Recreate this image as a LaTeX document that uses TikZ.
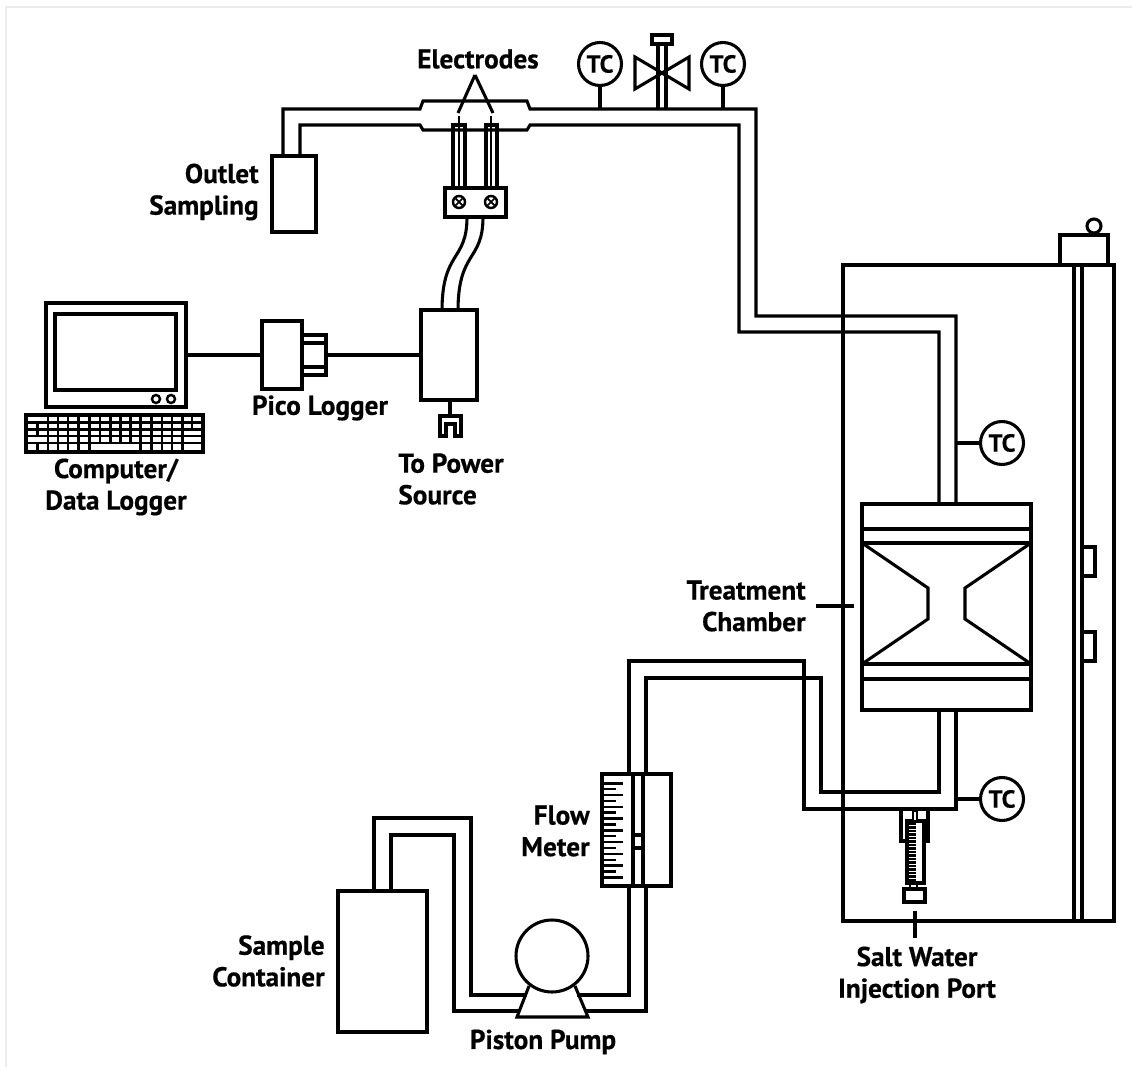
\documentclass[tikz,border=0pt]{standalone}
\usepackage{fontspec}
\setmainfont[BoldFeatures={FakeBold=0.5}]{PT Sans}
\usetikzlibrary{positioning}

\tikzset{
    every picture/.style={x=0.02cm, y=-0.02cm, line join=miter},
    pipe/.style={line width=1.75pt},
    thinline/.style={line width=1.4pt},
    unit/.style args={#1 by #2}{draw, line width=1.75pt, fill=white, inner sep=0pt, outer sep=0pt,
        minimum width=#1*0.02cm, minimum height=#2*0.02cm},
    sensor/.style={draw, circle, line width=1.75pt, fill=white, inner sep=0pt, outer sep=0pt,
        minimum size=0.86cm, font=\bfseries\fontsize{14}{15}\selectfont},
    tag/.style={font=\bfseries\fontsize{15.5}{18}\selectfont, inner sep=0pt, align=center},
    tagr/.style={tag, align=right, anchor=east},
    tagl/.style={tag, align=left, anchor=west}
}

\begin{document}
\begin{tikzpicture}
    \useasboundingbox (0,0) rectangle (1132,1067);

    % --- Faint frame of the scan ---
    \draw[gray!15, line width=1.2pt] (6,1067) -- (6,7) -- (1132,7);

    % --- Reference points on the pipes ---
    \coordinate (pipeTop) at (756,109);
    \coordinate (pipeRise) at (956,400);
    \coordinate (pipeDrop) at (956,809);

    % --- Top line: outlet, electrode sleeve, down to the chamber ---
    \draw[pipe] (283,156) -- (283,109) -- (420,109) -- (423,101) -- (527,101) -- (530,109)
        -- (pipeTop) -- (756,316) -- (956,316) -- (956,504);
    \draw[pipe] (300,156) -- (300,125) -- (420,125) -- (423,130) -- (527,130) -- (530,125)
        -- (739,125) -- (739,332) -- (939,332) -- (939,504);

    % --- Line from the chamber back to the flow meter ---
    \draw[pipe] (956,710) -- (pipeDrop) -- (804,809) -- (804,661) -- (629,661) -- (629,774);
    \draw[pipe] (939,710) -- (939,792) -- (821,792) -- (821,678) -- (646,678) -- (646,774);

    % --- Line from the container through the pump to the flow meter ---
    \draw[pipe] (374,891) -- (374,818) -- (471,818) -- (471,995) -- (527,995);
    \draw[pipe] (391,891) -- (391,835) -- (454,835) -- (454,1011) -- (520,1011);
    \draw[pipe] (629,886) -- (629,995) -- (577,995);
    \draw[pipe] (646,886) -- (646,1011) -- (585,1011);

    % --- Cabinet ---
    \draw[pipe] (843,265) rectangle (1114,921);
    \draw[pipe] (1074,265) -- (1074,921);
    \draw[pipe] (1082,265) -- (1082,921);
    \node[unit={48 by 30}] (lid) at (1084,250) {};
    \node[unit={14 by 14}, circle, minimum size=0.28cm] (knob) at (1094,226) {};
    \node[unit={13 by 29}] (tabA) at (1088.5,561.5) {};
    \node[unit={13 by 29}] (tabB) at (1088.5,646.5) {};

    % --- Treatment chamber ---
    \node[unit={169 by 206}] (chamber) at (946.5,607) {};
    \draw[pipe] (862,529) -- (1031,529);
    \draw[pipe] (862,543) -- (1031,543);
    \draw[pipe] (862,664) -- (1031,664);
    \draw[pipe] (862,679) -- (1031,679);
    \draw[pipe] (862,543) -- (928,588) -- (928,619) -- (862,664);
    \draw[pipe] (1031,543) -- (965,588) -- (965,619) -- (1031,664);

    % --- Temperature sensors ---
    \node[sensor] (tcA) at (600,64) {TC};
    \node[sensor] (tcB) at (723,64) {TC};
    \node[sensor] (tcC) at (1002,443) {TC};
    \node[sensor] (tcD) at (1002,799) {TC};
    \draw[pipe] (tcA) -- (tcA |- pipeTop);
    \draw[pipe] (tcB) -- (tcB |- pipeTop);
    \draw[pipe] (tcC) -- (tcC -| pipeRise);
    \draw[pipe] (tcD) -- (tcD -| pipeDrop);

    % --- Valve ---
    \draw[pipe] (658,109) -- (658,44);
    \draw[pipe] (666,109) -- (666,44);
    \draw[pipe] (662,73) -- (635,57) -- (635,89) -- (689,57) -- (689,89) -- cycle;
    \node[unit={20 by 9}] (valvecap) at (662,39.5) {};

    % --- Outlet, electrodes, terminal block ---
    \node[unit={44 by 76}] (outlet) at (294,194) {};
    \draw[pipe] (475,75) -- (458,113);
    \draw[pipe] (475,75) -- (493,113);
    \draw[pipe] (453,188) -- (453,125) -- (465,125) -- (465,188);
    \draw[pipe] (486,188) -- (486,125) -- (497,125) -- (497,188);
    \draw[thinline] (459,116) -- (459,188);
    \draw[thinline] (491,116) -- (491,188);
    \node[unit={61 by 29}] (block) at (475.5,202.5) {};
    \foreach \sx in {459,491} {
        \draw[thinline] (\sx,202) circle (6);
        \draw[line width=1pt] (\sx-3.5,198.5) -- (\sx+3.5,205.5);
        \draw[line width=1pt] (\sx-3.5,205.5) -- (\sx+3.5,198.5);
    }

    % --- Power unit and its plug ---
    \node[unit={56 by 90}] (power) at (449,355) {};
    \draw[pipe] (467,217) .. controls (467,262) and (442,250) .. (442,311);
    \draw[pipe] (483,217) .. controls (483,262) and (458,250) .. (458,311);
    \coordinate (plugtop) at (450,416);
    \draw[pipe] (power.south -| plugtop) -- (plugtop);
    \draw[pipe] (440,436) -- (440,416) -- (461,416) -- (461,436) -- (455,436) -- (455,424)
        -- (446,424) -- (446,436) -- cycle;

    % --- Pico logger ---
    \node[unit={40 by 68}] (pico) at (282,355) {};
    \node[unit={24 by 40}, anchor=west] (picoport) at (pico.east) {};
    \draw[pipe] (302,343) -- (326,343);
    \draw[pipe] (302,367) -- (326,367);
    \draw[pipe] (picoport) -- (power);

    % --- Computer ---
    \node[unit={140 by 104}] (monitor) at (116,355) {};
    \node[unit={121 by 76}] (screen) at (115.5,352) {};
    \draw[thinline] (156,399) circle (4);
    \draw[thinline] (171,399) circle (4);
    \draw[pipe] (monitor) -- (pico);

    % --- Keyboard: one loop per row of keys ---
    \node[unit={177 by 37}] (keyboard) at (114.5,433.5) {};
    \foreach \ky in {422.5,429.5,436,443} {
        \draw[thinline] (26,\ky) -- (203,\ky);
    }
    \foreach \kx in {48,58,68,78.7,89.7,100,110.3,120.3,130.3,140.7,151.3,162,172,182.3,192} {
        \draw[thinline] (\kx,415) -- (\kx,422.5);
    }
    \foreach \kx in {37.3,48,58,68,78.7,89.7,100,110.3,120.3,130.3,140.7,151.3,162,172,182.3,192} {
        \draw[thinline] (\kx,422.5) -- (\kx,429.5);
    }
    \foreach \kx in {37.3,48,58,68,78.7,89.7,100,110.3,120.3,130.3,140.7,151.3,162,172,182.3} {
        \draw[thinline] (\kx,429.5) -- (\kx,436);
    }
    \foreach \kx in {48,58,68,78.7,89.7,100,110.3,120.3,130.3,140.7,151.3,162,172,182.3} {
        \draw[thinline] (\kx,436) -- (\kx,443);
    }
    \foreach \kx in {37.3,48,58,68,78.7,89.7,140.7,151.3,162,172,182.3} {
        \draw[thinline] (\kx,443) -- (\kx,452);
    }

    % --- Flow meter ---
    \node[unit={69 by 112}] (meter) at (636.5,830) {};
    \draw[pipe] (633,774) -- (633,886);
    \draw[pipe] (643,774) -- (643,886);
    \draw[pipe] (633,835) -- (643,835);
    \draw[pipe] (633,848) -- (643,848);
    \foreach \ti in {0,...,16} {
        \pgfmathsetmacro{\tipx}{isodd(\ti) ? 616 : 623}
        \draw[thinline] (602,783.3+\ti*5.88) -- (\tipx,783.3+\ti*5.88);
    }

    % --- Pump ---
    \node[unit={72 by 72}, circle, minimum size=1.44cm] (pump) at (552,956) {};
    \draw[pipe] (529,986) -- (517,1017) -- (588,1017) -- (575,986);

    % --- Sample container ---
    \node[unit={89 by 141}] (sample) at (382.5,961.5) {};

    % --- Salt water port ---
    \draw[pipe] (901,809) -- (901,841) -- (907,841);
    \draw[pipe] (928,809) -- (928,841) -- (924,841);
    \node[unit={17 by 62}] (barrel) at (915.5,852) {};
    \node[unit={4 by 10}, line width=1.4pt] (needle) at (915,816) {};
    \foreach \ti in {0,...,16} {
        \draw[line width=1.3pt] (909,824+\ti*3.5) -- (916,824+\ti*3.5);
    }
    \node[unit={21 by 13}] (portcap) at (914.5,895.5) {};
    \draw[thinline] (910,883) -- (910,889);
    \draw[thinline] (917,883) -- (917,889);

    % --- Leaders ---
    \coordinate (leadA) at (816,606);
    \coordinate (leadB) at (854,606);
    \coordinate (leadC) at (915,911);
    \coordinate (leadD) at (915,938);
    \draw[pipe] (leadA) -- (leadB);
    \draw[pipe] (leadC) -- (leadD);

    % --- Labels ---
    \node[tag] (lblElectrodes) at (478,59) {Electrodes};
    \node[tagr] (lblOutlet) at (259,192) {Outlet\\Sampling};
    \node[tag] (lblComputer) at (116,487) {Computer/\\Data Logger};
    \node[tag] (lblPico) at (320,408) {Pico Logger};
    \node[tagl] (lblPower) at (398,479) {To Power\\Source};
    \node[tagr] (lblChamber) at (806,606) {Treatment\\Chamber};
    \node[tagr] (lblMeter) at (590,831) {Flow\\Meter};
    \node[tagr] (lblSample) at (325,961) {Sample\\Container};
    \node[tag] (lblPump) at (543,1042) {Piston Pump};
    \node[tag] (lblPort) at (917,975) {Salt Water\\Injection Port};
\end{tikzpicture}
\end{document}
